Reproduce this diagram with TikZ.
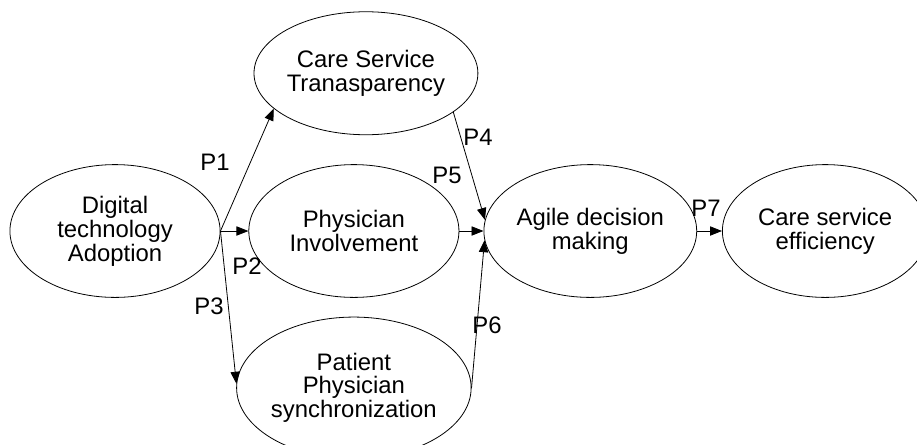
\documentclass[tikz,border=0pt]{standalone}
\usepackage{fontspec}
\setmainfont{Liberation Sans}
\usetikzlibrary{shapes.geometric,arrows.meta,positioning}
\tikzset{
        concept/.style = {draw, ellipse, inner sep=0pt, align=center,
            line width=0.6pt,
            minimum width=5.57cm,
            minimum height=3.52cm,
            font=\fontsize{18}{18}\selectfont},
        link/.style = {draw, -{Triangle[length=9pt,width=7pt]}, line width=0.6pt},
        plabel/.style = {inner sep=0pt, font=\fontsize{18}{18}\selectfont},
    }

\begin{document}
\begin{tikzpicture}[x=0.0265cm, y=-0.0265cm]
    \useasboundingbox (0,0) rectangle (917,444);

    \node[concept] (dta) at (115,231) {Digital\\technology\\Adoption};
    \node[concept, right=0.74cm of dta] (phy) {Physician\\Involvement};
    \node[concept, above=0.77cm of phy, xshift=0.32cm,
          minimum width=5.54cm, minimum height=3.26cm] (cst) {Care Service\\Tranasparency};
    \node[concept, below=0.5cm of phy, minimum width=5.62cm, minimum height=3.75cm] (pps)
          {Patient\\Physician\\synchronization};
    \node[concept, right=0.64cm of phy, minimum width=5.64cm] (adm) {Agile decision\\making};
    \node[concept, right=0.66cm of adm, minimum width=5.45cm] (cse) {Care service\\efficiency};

    % paths
    \path[link] (dta.east) -- (cst.201);
    \path[link] (dta.east) -- (phy.west);
    \path[link] (dta.east) -- (pps.178);
    \path[link] (cst.-24) -- (adm.174);
    \path[link] (phy.east) -- (adm.west);
    \path[link] (pps.east) -- (adm.185);
    \path[link] (adm.east) -- (cse.west);

    % labels
    \node[plabel] (p1) at (215,162) {P1};
    \node[plabel] (p2) at (247,266) {P2};
    \node[plabel] (p3) at (209,306) {P3};
    \node[plabel] (p4) at (478,137) {P4};
    \node[plabel] (p5) at (447,175) {P5};
    \node[plabel] (p6) at (487,325) {P6};
    \node[plabel] (p7) at (706,208) {P7};
\end{tikzpicture}
\end{document}
